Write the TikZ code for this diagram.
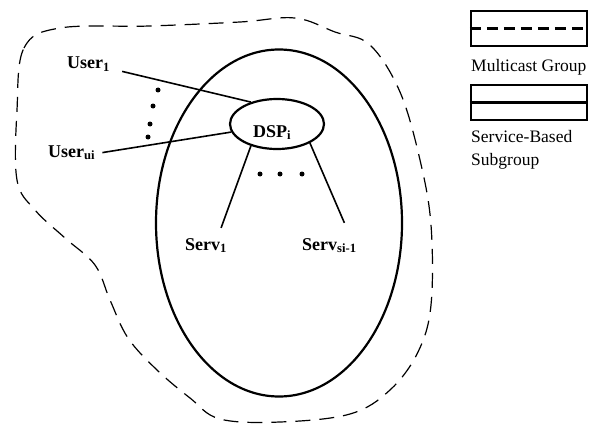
\documentclass[tikz,border=0pt]{standalone}
\usepackage{fontspec}
\setmainfont{Liberation Serif}
\usetikzlibrary{shapes.geometric}
\begin{document}
\begin{tikzpicture}[x=1pt,y=-1pt,
 lbl/.style={font=\fontsize{18}{21}\selectfont\bfseries, inner sep=0, anchor=base west},
 leg/.style={font=\fontsize{17.5}{20}\selectfont, inner sep=0, anchor=base west},
 oval/.style={draw, ellipse, line width=2.2pt, inner sep=0},
 link/.style={line width=1.6pt},
 dotmark/.style={fill, circle, inner sep=0, minimum size=5pt},
 blob/.style={line width=1.2pt, dash pattern=on 15pt off 9pt},
 legbox/.style={draw, line width=2.2pt}]
\path[use as bounding box] (0,0) rectangle (593,425);
% multicast group boundary
\draw[blob] plot[smooth cycle, tension=0.6] coordinates {
 (17,110) (24,48) (60,28) (150,26) (240,22) (295,18) (335,32) (370,45)
 (400,92) (420,160) (431,225) (431,305) (418,352) (390,390) (350,414)
 (280,422) (220,419) (190,398) (157,370) (128,338) (110,300) (95,265)
 (65,238) (35,210) (17,180)};
% service-based subgroup
\node[oval, minimum width=246pt, minimum height=347pt] (sub) at (279,223) {};
\node[oval, minimum width=94pt, minimum height=50pt] (dsp) at (277,124) {};
\node[lbl] (dspl) at (253,137) {DSP\textsubscript{i}};
\node[lbl] (u1) at (67,69) {User\textsubscript{1}};
\node[lbl] (uui) at (48,157) {User\textsubscript{ui}};
\node[lbl] (s1) at (185,250) {Serv\textsubscript{1}};
\node[lbl] (ssi) at (302,250) {Serv\textsubscript{si-1}};
\draw[link] ([shift={(12,7)}]u1.east) -- (dsp.140);
\draw[link] ([xshift=7pt]uui.east) -- (dsp.190);
\draw[link] ([shift={(15,-10)}]s1.north) -- (dsp.220);
\draw[link] ([shift={(15,-15)}]ssi.north) -- (dsp.330);
% dots
\node[dotmark] (v1) at (158,90) {};
\node[dotmark] (v2) at (153,106) {};
\node[dotmark] (v3) at (150,124) {};
\node[dotmark] (v4) at (148,137) {};
\node[dotmark] (h1) at (260,174) {};
\node[dotmark] (h2) at (280,174) {};
\node[dotmark] (h3) at (302,174) {};
% legend
\node[legbox, minimum width=116pt, minimum height=35pt, inner sep=0] (lg1) at (529,28.5) {};
\draw[line width=2.2pt, dash pattern=on 11pt off 6pt] (lg1.west) -- (lg1.east);
\node[leg] (lt1) at (471,72) {Multicast Group};
\node[legbox, minimum width=116pt, minimum height=35pt, inner sep=0] (lg2) at (529,102.5) {};
\draw[line width=2.2pt] (lg2.west) -- (lg2.east);
\node[leg] (lt2) at (471,142) {Service-Based};
\node[leg] (lt3) at (471,165) {Subgroup};
\end{tikzpicture}
\end{document}
